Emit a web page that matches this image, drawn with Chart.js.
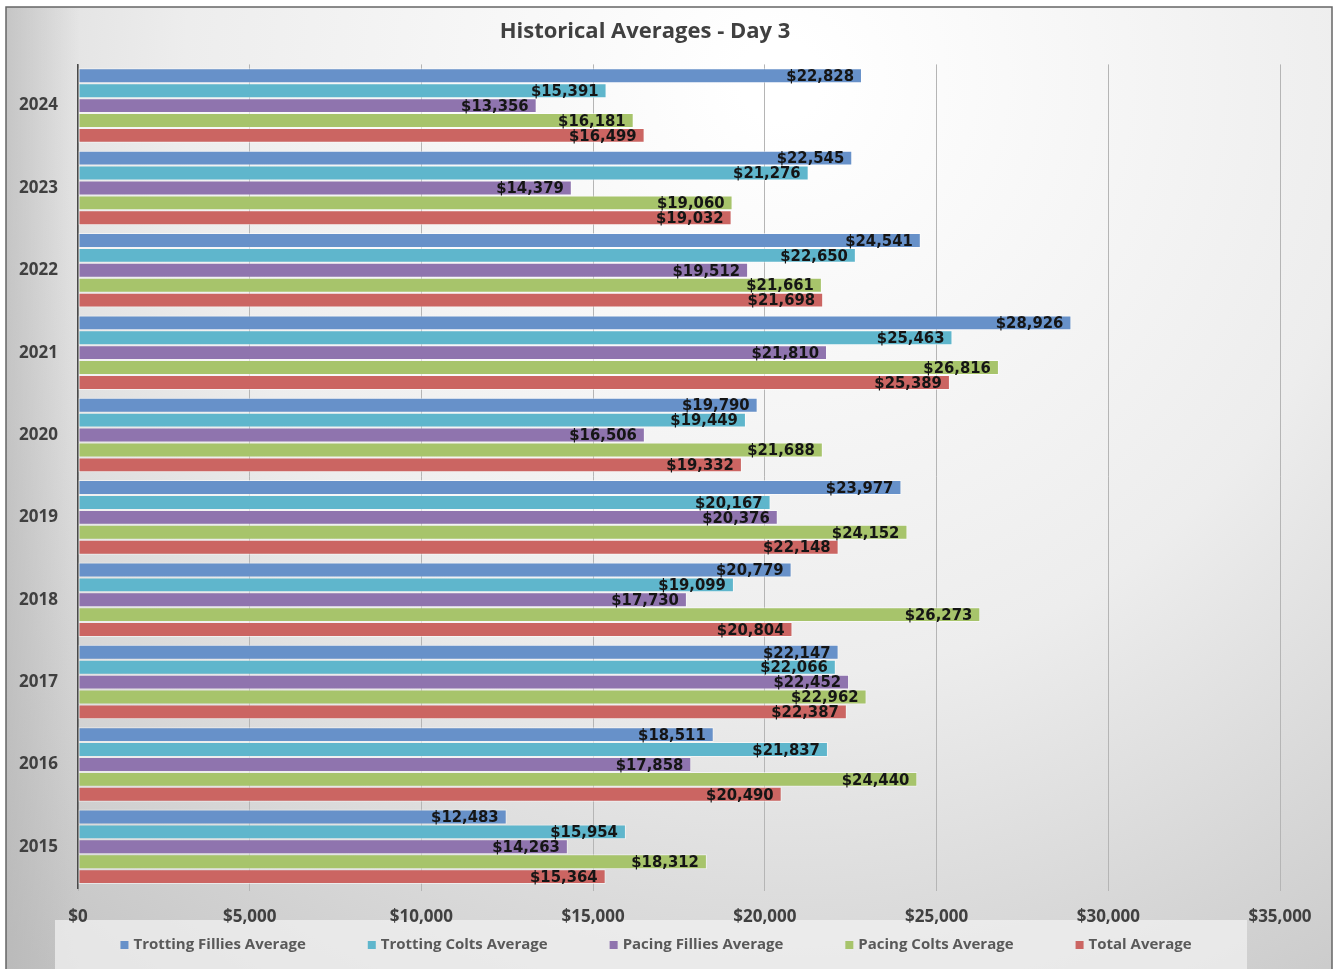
<!DOCTYPE html>
<html>
<head>
<meta charset="utf-8">
<script src="https://cdn.jsdelivr.net/npm/chart.js@4.4.1/dist/chart.umd.min.js"></script>
<style>
  html, body { margin: 0; padding: 0; background: #fff; }
  #wrap { width: 1334px; height: 969px; }
</style>
</head>
<body>
<div id="wrap"><canvas id="chart" width="1334" height="969"></canvas></div>
<script>
// Dados
const years = ['2024', '2023', '2022', '2021', '2020', '2019', '2018', '2017', '2016', '2015'];
const trottingFillies = [22828, 22545, 24541, 28926, 19790, 23977, 20779, 22147, 18511, 12483];
const trottingColts   = [15391, 21276, 22650, 25463, 19449, 20167, 19099, 22066, 21837, 15954];
const pacingFillies   = [13356, 14379, 19512, 21810, 16506, 20376, 17730, 22452, 17858, 14263];
const pacingColts     = [16181, 19060, 21661, 26816, 21688, 24152, 26273, 22962, 24440, 18312];
const totalAverage    = [16499, 19032, 21698, 25389, 19332, 22148, 20804, 22387, 20490, 15364];
const xTicks = [0, 5000, 10000, 15000, 20000, 25000, 30000, 35000];

const money = v => '$' + v.toLocaleString('en-US');
const mainFont = '"Open Sans", "Liberation Sans", sans-serif';

// Fundo com gradiente e moldura
const backgroundPlugin = {
    id: 'background',
    beforeDraw: (chart) => {
        const c = chart.ctx;
        c.save();
        c.fillStyle = '#ffffff';
        c.fillRect(0, 0, chart.width, chart.height);
        const g = c.createRadialGradient(780, 80, 40, 780, 80, 1150);
        g.addColorStop(0, '#ffffff');
        g.addColorStop(0.5, '#ededed');
        g.addColorStop(1, '#c4c4c4');
        c.fillStyle = g;
        c.fillRect(6, 7, 1326, 962);
        // faixa mais escura à esquerda
        const lg = c.createLinearGradient(6, 0, 80, 0);
        lg.addColorStop(0, 'rgba(180,180,180,0.6)');
        lg.addColorStop(1, 'rgba(180,180,180,0)');
        c.fillStyle = lg;
        c.fillRect(6, 7, 74, 962);
        c.strokeStyle = '#666';
        c.lineWidth = 1.5;
        c.strokeRect(6, 7, 1326, 966);
        // caixa da legenda
        c.fillStyle = 'rgba(240,240,240,0.75)';
        c.fillRect(55, 920, 1192, 49);
        c.restore();
    }
};

// Rótulos de valor no fim de cada barra
const valueLabels = {
    id: 'valueLabels',
    afterDatasetsDraw: (chart) => {
        const c = chart.ctx;
        c.save();
        c.font = 'bold 16.5px "DejaVu Sans Condensed", "DejaVu Sans", sans-serif';
        c.fillStyle = '#151515';
        c.textAlign = 'right';
        c.textBaseline = 'middle';
        chart.data.datasets.forEach((ds, i) => {
            chart.getDatasetMeta(i).data.forEach((bar, j) => {
                c.fillText(money(ds.data[j]), bar.x - 8, bar.y + 1);
            });
        });
        c.restore();
    }
};

// Legenda desenhada à mão para controlar o espaçamento
const customLegend = {
    id: 'customLegend',
    afterDraw: (chart) => {
        const c = chart.ctx;
        c.save();
        c.font = 'bold 15px ' + mainFont;
        c.textBaseline = 'middle';
        const gap = 62, box = 8, boxGap = 5;
        const items = chart.data.datasets.map(ds => ({
            label: ds.label, color: ds.backgroundColor,
            w: box + boxGap + c.measureText(ds.label).width
        }));
        const total = items.reduce((s, it) => s + it.w, 0) + gap * (items.length - 1);
        let x = 656 - total / 2;
        const y = 945;
        items.forEach(it => {
            c.fillStyle = it.color;
            c.fillRect(x, y - box / 2, box, box);
            c.fillStyle = '#595959';
            c.fillText(it.label, x + box + boxGap, y);
            x += it.w + gap;
        });
        c.restore();
    }
};

const barBorder = 'rgba(255,255,255,0.55)';

const ctx = document.getElementById('chart').getContext('2d');
const chart = new Chart(ctx, {
    type: 'bar',
    data: {
        labels: years,
        datasets: [
            { label: 'Trotting Fillies Average', data: trottingFillies, backgroundColor: '#6791c9' },
            { label: 'Trotting Colts Average', data: trottingColts, backgroundColor: '#5fb6cc' },
            { label: 'Pacing Fillies Average', data: pacingFillies, backgroundColor: '#8f74ae' },
            { label: 'Pacing Colts Average', data: pacingColts, backgroundColor: '#a7c46b' },
            { label: 'Total Average', data: totalAverage, backgroundColor: '#cb6562' }
        ].map(ds => Object.assign(ds, {
            borderColor: barBorder,
            borderWidth: 1,
            borderSkipped: false,
            categoryPercentage: 0.905,
            barPercentage: 1.0
        }))
    },
    options: {
        indexAxis: 'y',
        responsive: false,
        animation: false,
        layout: { padding: { left: 10, right: 54, top: 0, bottom: 39 } },
        plugins: {
            legend: { display: false },
            tooltip: { enabled: false },
            title: {
                display: true,
                text: 'Historical Averages - Day 3',
                color: '#404040',
                font: { family: mainFont, size: 22, weight: 'bold' },
                padding: { top: 19, bottom: 19 }
            }
        },
        scales: {
            x: {
                min: 0,
                max: 35000,
                afterBuildTicks: (axis) => { axis.ticks = xTicks.map(v => ({ value: v })); },
                afterFit: (axis) => { axis.height = 42; },
                grid: { color: '#b5b5b5', lineWidth: 1, tickLength: 3, drawOnChartArea: true },
                border: { display: false },
                ticks: {
                    padding: 16,
                    color: '#404040',
                    font: { family: mainFont, size: 17, weight: 'bold' },
                    callback: (v) => money(v),
                    maxRotation: 0
                }
            },
            y: {
                afterFit: (axis) => { axis.width = 68; },
                grid: { display: false },
                border: { display: true, color: '#4a4a4a', width: 1.5 },
                ticks: {
                    padding: 12,
                    color: '#404040',
                    font: { family: mainFont, size: 17, weight: 'bold' }
                }
            }
        }
    },
    plugins: [backgroundPlugin, valueLabels, customLegend]
});
</script>
</body>
</html>
